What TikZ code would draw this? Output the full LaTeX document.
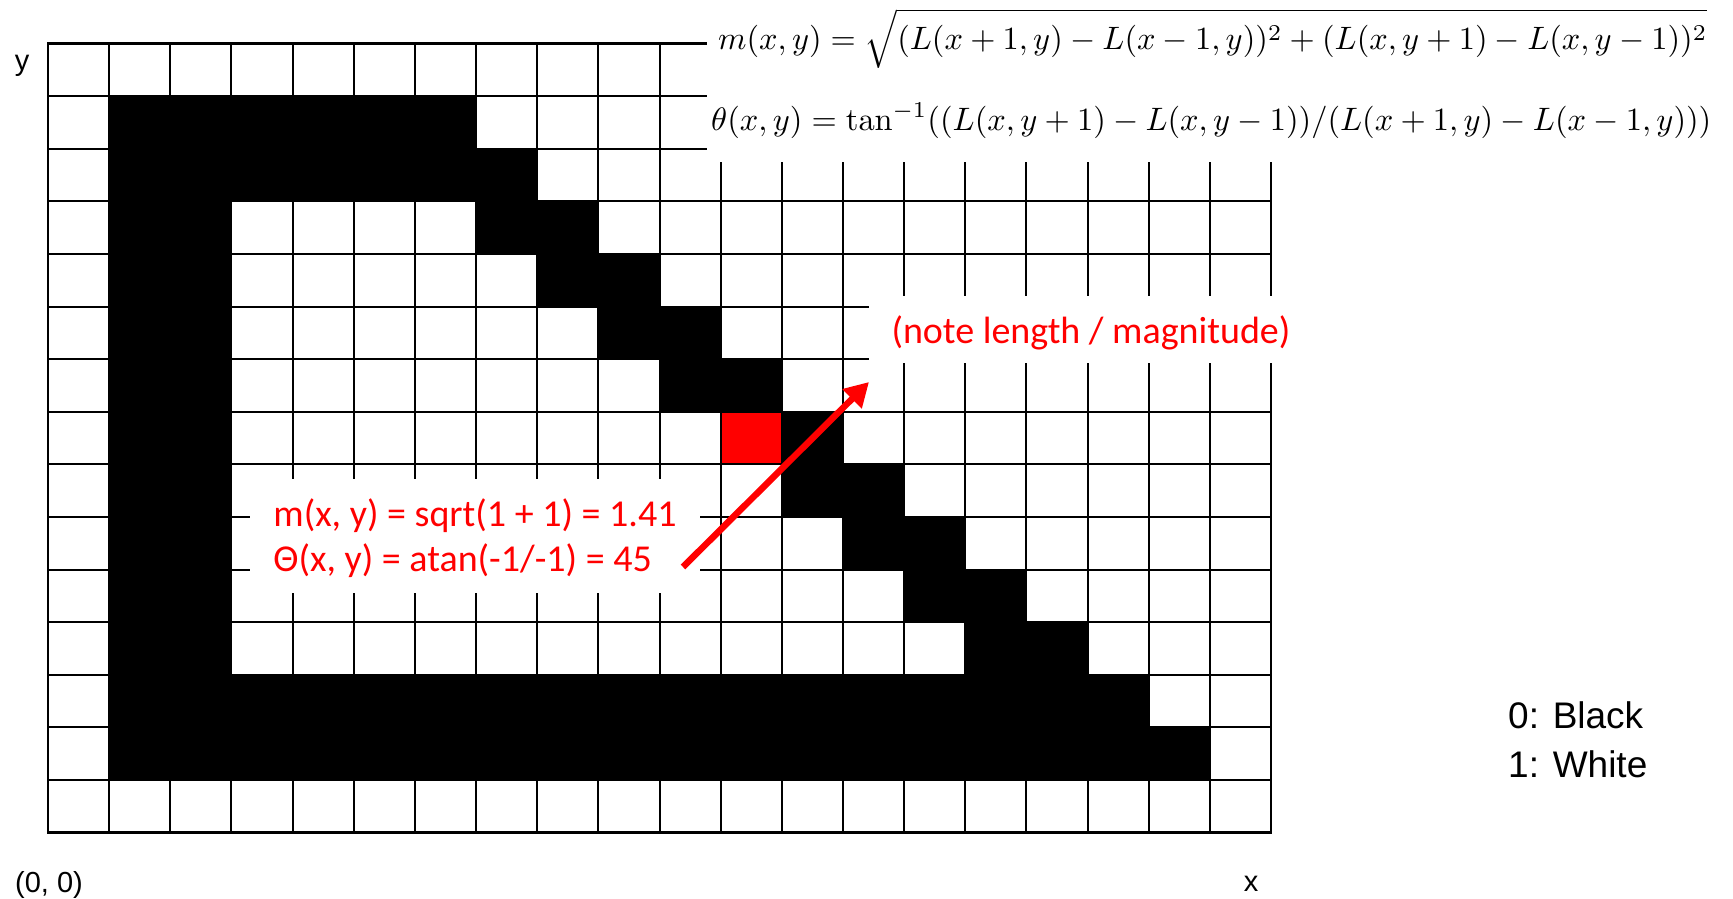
\documentclass[tikz,border=0pt]{standalone}
\usepackage[no-math]{fontspec}
\usepackage{graphicx}
\usetikzlibrary{arrows.meta}
\newfontfamily\arialf{Liberation Sans}
\newfontfamily\calib{Carlito}
\definecolor{pred}{RGB}{255,0,0}
\tikzset{
  blackcell/.style={fill=black},
  redcell/.style={fill=pred},
  gridline/.style={line width=2pt,black},
  outline/.style={line width=2.8pt,black},
  whitebox/.style={fill=white,inner sep=0pt},
  axislabel/.style={inner sep=0pt,font=\arialf\fontsize{29}{34}\selectfont},
  legendtext/.style={inner sep=0pt,anchor=base west,font=\arialf\fontsize{37}{44}\selectfont},
  redtext/.style={text=pred,inner sep=0pt,font=\calib\fontsize{38}{45}\selectfont},
  formula/.style={inner sep=0pt,anchor=base west},
  redarrow/.style={draw=pred,line width=6.5pt,-{Triangle[length=24pt,width=26pt]}}
}
\begin{document}
\begin{tikzpicture}[x=1pt,y=-1pt]
\useasboundingbox (0,0) rectangle (1733,899);
\fill[white] (0,0) rectangle (1733,899);
\begin{scope}[shift={(48,43.5)},x=61.15pt,y=-52.6pt]
  \fill[blackcell] (1,1) rectangle (7,2);
  \fill[blackcell] (1,2) rectangle (8,3);
  \fill[blackcell] (1,3) rectangle (3,12);
  \fill[blackcell] (7,3) rectangle (9,4);
  \fill[blackcell] (8,4) rectangle (10,5);
  \fill[blackcell] (9,5) rectangle (11,6);
  \fill[blackcell] (10,6) rectangle (12,7);
  \fill[blackcell] (12,7) rectangle (13,8);
  \fill[blackcell] (12,8) rectangle (14,9);
  \fill[blackcell] (13,9) rectangle (15,10);
  \fill[blackcell] (14,10) rectangle (16,11);
  \fill[blackcell] (15,11) rectangle (17,12);
  \fill[blackcell] (1,12) rectangle (18,13);
  \fill[blackcell] (1,13) rectangle (19,14);
  \fill[redcell] (11,7) rectangle (12,8);
  \foreach \i in {1,...,19} \draw[gridline] (\i,0) -- (\i,15);
  \foreach \j in {1,...,14} \draw[gridline] (0,\j) -- (20,\j);
  \draw[outline] (0,0) rectangle (20,15);
\end{scope}
% formula panel
\node[whitebox,minimum width=1026pt,minimum height=162pt,anchor=north west] (fbox) at (707,0) {};
\node[formula] (mform) at (718,50) {\resizebox{989pt}{!}{$\displaystyle m(x,y)=\sqrt{\vphantom{\big(}(L(x+1,y)-L(x-1,y))^2+(L(x,y+1)-L(x,y-1))^2}$}};
\node[formula] (tform) at (711,131) {\resizebox{1000pt}{!}{$\displaystyle \theta(x,y)=\tan^{-1}((L(x,y+1)-L(x,y-1))/(L(x+1,y)-L(x-1,y)))$}};
% red notes
\node[whitebox,minimum width=444pt,minimum height=67pt] (notebg) at (1091,329.5) {};
\node[redtext] (note) at (1091,333) {(note length / magnitude)};
\node[whitebox,minimum width=450pt,minimum height=114pt] (calcbg) at (475,536) {};
\node[redtext,align=left] (calc) at (475,538) {m(x, y) = sqrt(1 + 1) = 1.41\\Θ(x, y) = atan(-1/-1) = 45};
% axis labels
\node[axislabel] (ylab) at (22,66) {y};
\node[axislabel] (origin) at (49,885) {(0, 0)};
\node[axislabel] (xlab) at (1251,884) {x};
% legend
\node[legendtext] (leg0) at (1508,728) {0: Black};
\node[legendtext] (leg1) at (1508,777) {1: White};
% arrow
\coordinate (atail) at (683,567);
\coordinate (ahead) at (869,382);
\draw[redarrow] (atail) -- (ahead);
\end{tikzpicture}
\end{document}
